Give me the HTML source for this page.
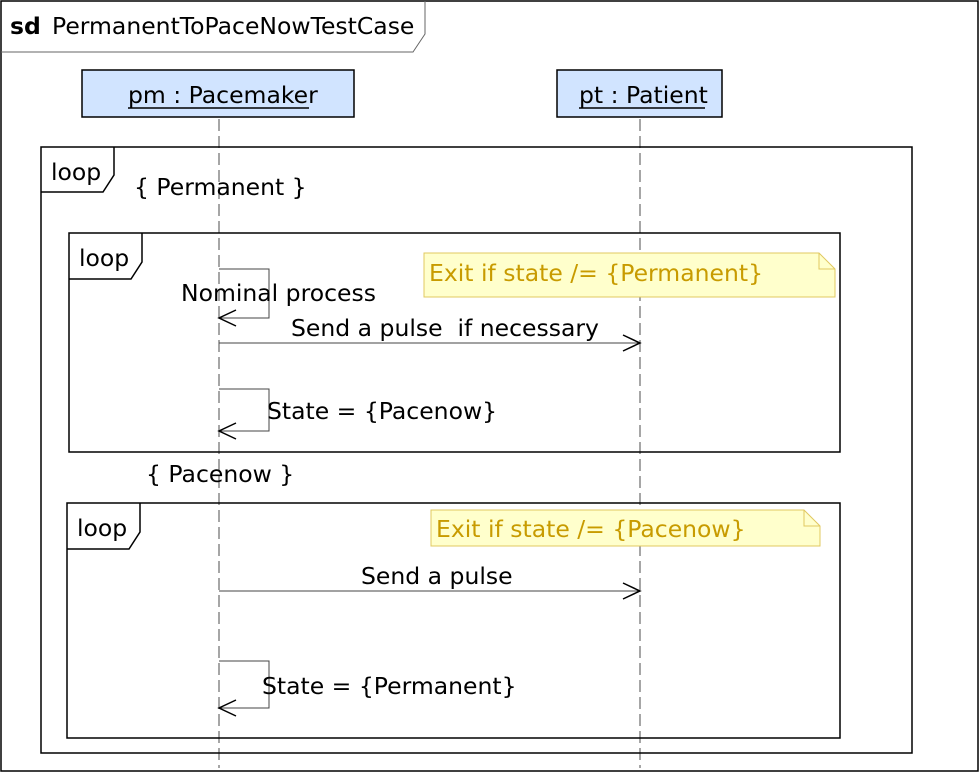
<!DOCTYPE html>
<html><head><style>body{margin:0;background:#fff}svg{display:block}text{font-family:"DejaVu Sans","Liberation Sans",sans-serif;font-size:23.5px;fill:#000;white-space:pre}</style></head><body>
<svg width="979" height="772" viewBox="0 0 979 772" xmlns="http://www.w3.org/2000/svg">
<rect x="1" y="1" width="977" height="770" fill="#fff" stroke="#000" stroke-width="1.5"/>
<path d="M1 52 H413 L425 34 V1" fill="none" stroke="#666" stroke-width="1"/>
<text x="10" y="34" font-weight="bold">sd</text><text x="52" y="34">PermanentToPaceNowTestCase</text>
<rect x="82" y="70" width="272" height="47" fill="#d1e4ff" stroke="#000" stroke-width="1.5"/>
<text x="128" y="103">pm : Pacemaker</text><line x1="128" y1="108" x2="309" y2="108" stroke="#000" stroke-width="1.5"/>
<rect x="557" y="70" width="165" height="47" fill="#d1e4ff" stroke="#000" stroke-width="1.5"/>
<text x="579" y="103">pt : Patient</text><line x1="579" y1="108" x2="705" y2="108" stroke="#000" stroke-width="1.5"/>
<line x1="219" y1="119" x2="219" y2="768" stroke="#888" stroke-width="1.5" stroke-dasharray="12,5"/>
<line x1="640" y1="119" x2="640" y2="768" stroke="#888" stroke-width="1.5" stroke-dasharray="12,5"/>
<rect x="41" y="147" width="871" height="606" fill="none" stroke="#000" stroke-width="1.5"/>
<path d="M41 192 H103 L114 175 V147" fill="none" stroke="#000" stroke-width="1.5"/>
<text x="51" y="180">loop</text><text x="134" y="195">{ Permanent }</text>
<rect x="69" y="233" width="771" height="219" fill="none" stroke="#000" stroke-width="1.5"/>
<path d="M69 279 H131 L142 262 V233" fill="none" stroke="#000" stroke-width="1.5"/>
<text x="79" y="266">loop</text>
<path d="M424 253 H819 L835 269 V297 H424 Z" fill="#ffffcc" stroke="#e0c860" stroke-width="1"/>
<path d="M819 253 V269 H835" fill="none" stroke="#e0c860" stroke-width="1"/>
<text x="429" y="281" style="fill:#c89b00">Exit if state /= {Permanent}</text>
<path d="M219 269 H269 V318 H219" fill="none" stroke="#444" stroke-width="1"/>
<path d="M236 310 L219 318 L236 326" fill="none" stroke="#000" stroke-width="1.5"/>
<text x="181" y="301">Nominal process</text>
<line x1="219" y1="343" x2="640" y2="343" stroke="#444" stroke-width="1"/>
<path d="M623 335 L640 343 L623 351" fill="none" stroke="#000" stroke-width="1.5"/>
<text x="291" y="336">Send a pulse&#160;&#160;if necessary</text>
<path d="M219 389 H269 V431 H219" fill="none" stroke="#444" stroke-width="1"/>
<path d="M236 423 L219 431 L236 439" fill="none" stroke="#000" stroke-width="1.5"/>
<text x="267" y="419">State = {Pacenow}</text>
<text x="146" y="482">{ Pacenow }</text>
<rect x="67" y="503" width="773" height="235" fill="none" stroke="#000" stroke-width="1.5"/>
<path d="M67 549 H129 L140 532 V503" fill="none" stroke="#000" stroke-width="1.5"/>
<text x="77" y="536">loop</text>
<path d="M431 510 H804 L820 526 V546 H431 Z" fill="#ffffcc" stroke="#e0c860" stroke-width="1"/>
<path d="M804 510 V526 H820" fill="none" stroke="#e0c860" stroke-width="1"/>
<text x="436" y="537" style="fill:#c89b00">Exit if state /= {Pacenow}</text>
<line x1="219" y1="591" x2="640" y2="591" stroke="#444" stroke-width="1"/>
<path d="M623 583 L640 591 L623 599" fill="none" stroke="#000" stroke-width="1.5"/>
<text x="361" y="584">Send a pulse</text>
<path d="M219 661 H269 V708 H219" fill="none" stroke="#444" stroke-width="1"/>
<path d="M236 700 L219 708 L236 716" fill="none" stroke="#000" stroke-width="1.5"/>
<text x="262" y="694">State = {Permanent}</text>
</svg>
</body></html>
